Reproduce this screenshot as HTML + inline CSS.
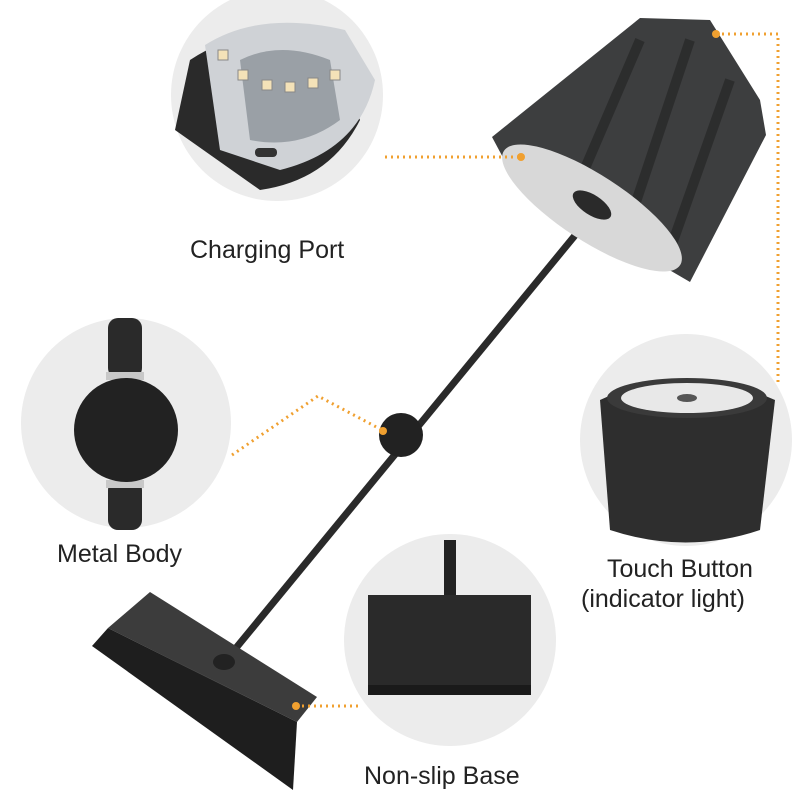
<!DOCTYPE html>
<html><head><meta charset="utf-8"><style>
html,body{margin:0;padding:0;background:#fff;}
svg{display:block;}
text{font-family:"Liberation Sans",sans-serif;font-size:25px;fill:#222;}
</style></head><body>
<svg width="800" height="800" viewBox="0 0 800 800" xmlns="http://www.w3.org/2000/svg">
<rect width="800" height="800" fill="#fff"/>
<circle cx="277" cy="95" r="106" fill="#ececec"/>
<circle cx="126" cy="423" r="105" fill="#ececec"/>
<circle cx="686" cy="440" r="106" fill="#ececec"/>
<circle cx="450" cy="640" r="106" fill="#ececec"/>

<!-- charging port detail -->
<path d="M190 60 Q250 20 330 40 L360 120 Q330 180 260 190 L175 130 Z" fill="#2a2a2a"/>
<path d="M205 45 Q260 10 345 30 L375 80 Q360 150 280 170 L220 150 Z" fill="#cfd2d6"/>
<path d="M240 60 Q280 40 330 60 L340 120 Q300 150 250 140 Z" fill="#9aa0a6"/>
<g fill="#f4e2b8" stroke="#888" stroke-width="1">
<rect x="218" y="50" width="10" height="10"/><rect x="238" y="70" width="10" height="10"/>
<rect x="262" y="80" width="10" height="10"/><rect x="285" y="82" width="10" height="10"/>
<rect x="308" y="78" width="10" height="10"/><rect x="330" y="70" width="10" height="10"/>
</g>
<rect x="255" y="148" width="22" height="9" rx="4" fill="#333"/>

<!-- metal body detail -->
<rect x="108" y="318" width="34" height="60" rx="10" fill="#2a2a2a"/>
<rect x="108" y="480" width="34" height="50" rx="10" fill="#2a2a2a"/>
<rect x="106" y="372" width="38" height="8" fill="#c8c8c8"/>
<rect x="106" y="480" width="38" height="8" fill="#c8c8c8"/>
<circle cx="126" cy="430" r="52" fill="#222"/>

<!-- touch button detail -->
<path d="M600 400 Q686 360 775 400 L760 530 Q686 555 610 530 Z" fill="#2e2e2e"/>
<ellipse cx="687" cy="398" rx="80" ry="20" fill="#3a3a3a"/>
<ellipse cx="687" cy="398" rx="66" ry="15" fill="#e8e8e8"/>
<ellipse cx="687" cy="398" rx="10" ry="4" fill="#555"/>

<!-- base detail -->
<rect x="444" y="540" width="12" height="90" fill="#222"/>
<ellipse cx="450" cy="635" rx="10" ry="8" fill="#222"/>
<rect x="368" y="595" width="163" height="90" fill="#2a2a2a"/>
<rect x="368" y="685" width="163" height="10" fill="#1a1a1a"/>

<!-- lamp -->
<line x1="600" y1="205" x2="222" y2="665" stroke="#2a2a2a" stroke-width="7"/>
<circle cx="401" cy="435" r="22" fill="#222"/>
<path d="M108 628 L150 592 L317 697 L297 722 Z" fill="#3c3c3c"/>
<path d="M108 628 L297 722 L293 790 L92 646 Z" fill="#1e1e1e"/>
<ellipse cx="224" cy="662" rx="11" ry="8" fill="#222"/>
<path d="M492 137 L640 18 L710 20 L760 100 L766 135 L690 282 L515 180 Z" fill="#3d3e3f"/>
<g stroke="#222" stroke-width="10" opacity="0.6">
<line x1="640" y1="40" x2="580" y2="180"/>
<line x1="690" y1="40" x2="630" y2="220"/>
<line x1="730" y1="80" x2="670" y2="250"/>
</g>
<ellipse cx="592" cy="208" rx="105" ry="33" transform="rotate(33 592 208)" fill="#d8d8d8"/>
<ellipse cx="592" cy="205" rx="22" ry="10" transform="rotate(33 592 205)" fill="#2a2a2a"/>

<g stroke="#f0a030" stroke-width="3" stroke-dasharray="2 4" fill="none">
<polyline points="385,157 520,157"/>
<polyline points="716,34 778,34 778,382"/>
<polyline points="232,455 318,396 382,430"/>
<polyline points="296,706 362,706"/>
</g>
<g fill="#f0a030">
<circle cx="521" cy="157" r="4"/><circle cx="716" cy="34" r="4"/>
<circle cx="383" cy="431" r="4"/><circle cx="296" cy="706" r="4"/>
</g>

<text x="190" y="258">Charging Port</text>
<text x="57" y="562">Metal Body</text>
<text x="607" y="577">Touch Button</text>
<text x="581" y="607">(indicator light)</text>
<text x="364" y="784">Non-slip Base</text>
</svg>
</body></html>
